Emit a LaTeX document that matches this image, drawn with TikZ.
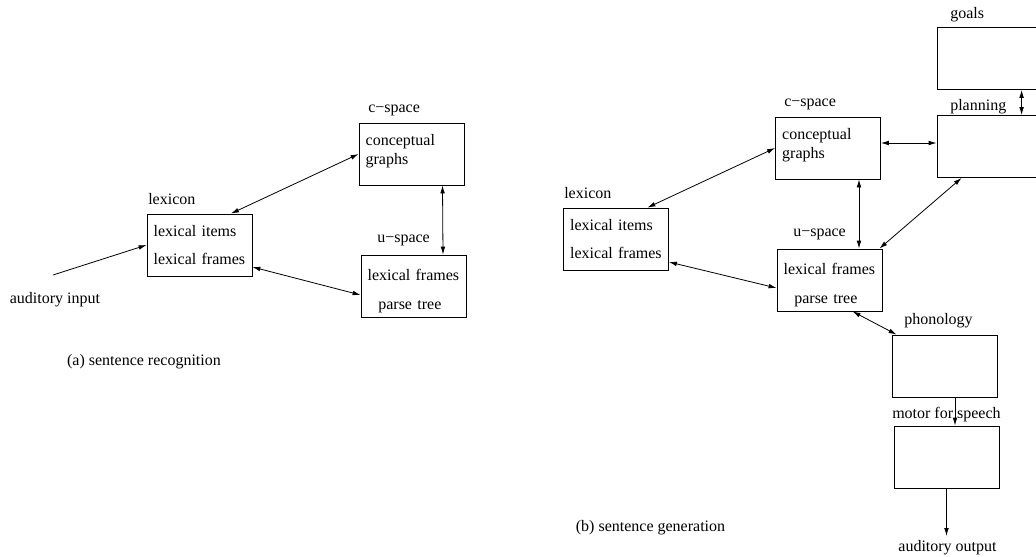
\documentclass[tikz,border=0pt]{standalone}
\usepackage{fontspec}
\setmainfont{Liberation Serif}
\usetikzlibrary{arrows.meta, positioning, calc}

\tikzset{
  stage/.style={draw, line width=0.6pt, inner xsep=5pt, inner ysep=0pt,
                text width=68.75pt, minimum height=46.5pt, align=left},
  tag/.style={anchor=west, inner sep=0pt},
  link/.style={line width=0.6pt, {Latex[length=6pt,width=3.5pt]}-{Latex[length=6pt,width=3.5pt]}},
  feed/.style={line width=0.6pt, -{Latex[length=6pt,width=3.5pt]}},
}

\begin{document}
\begin{tikzpicture}[x=0.75pt, y=-0.75pt, font=\fontsize{12}{14.5}\selectfont]
    \useasboundingbox (0,0) rectangle (1036,557);
    \clip (0,0) rectangle (1036,557);

    % (a) sentence recognition
    \node[stage] (lexA) at (199.5,245) {lexical items\\[6pt]lexical frames};
    \node[stage] (csA) at (411.5,154) {conceptual\\graphs\rule[-6.5pt]{0pt}{0pt}};
    \node[stage] (usA) at (413.5,286) {\rule{0pt}{16pt}lexical frames\\[7pt]\hspace*{8pt}parse tree};
    \node[tag] (lexAtag) at (148,199) {lexicon};
    \node[tag] (csAtag) at (368,110) {c−space};
    \node[tag] (usAtag) at (377,240) {u−space};
    \node (inA) at (55,300) {auditory input};
    \coordinate (inAend) at (53,275);
    \node (capA) at (144,362) {(a) sentence recognition};

    \draw[feed] (inAend) -- (lexA.west);
    \draw[link] (lexA.45) -- (csA.west);
    \draw[link] ($(csA.south)+(31,0)$) -- ($(usA.north)+(29.5,0)$);
    \draw[link] ($(lexA.east)+(0,22)$) -- ($(usA.west)+(0,9)$);

    % (b) sentence generation
    \node[stage] (lexB) at (616,239) {lexical items\\[6pt]lexical frames};
    \node[stage] (csB) at (828,148) {conceptual\\graphs\rule[-6.5pt]{0pt}{0pt}};
    \node[stage] (usB) at (829.5,280) {\rule{0pt}{16pt}lexical frames\\[7pt]\hspace*{8pt}parse tree};
    \node[stage] (goals) at (989.5,58.5) {};
    \node[stage] (plan) at (989.5,146.5) {};
    \node[stage] (phon) at (944.5,366) {};
    \node[stage] (motor) at (946.5,457) {};
    \node[tag] (lexBtag) at (564,193) {lexicon};
    \node[tag] (csBtag) at (784,104) {c−space};
    \node[tag] (usBtag) at (793,234) {u−space};
    \node[tag] (goalstag) at (950,15) {goals};
    \node[tag] (plantag) at (950,107) {planning};
    \node[tag] (phontag) at (904,321) {phonology};
    \node[tag] (motortag) at (892,415) {motor for speech};
    \node (outB) at (947.5,548) {auditory output};
    \node (capB) at (650.5,528) {(b) sentence generation};

    \draw[link] (lexB.45) -- (csB.west);
    \draw[link] ($(lexB.east)+(0,23)$) -- ($(usB.west)+(0,8)$);
    \draw[link] ($(csB.south)+(31,0)$) -- ($(usB.north)+(29.5,0)$);
    \draw[link] ($(csB.east)+(0,-5)$) coordinate (cpB) -- (cpB -| plan.west);
    \draw[link] ($(plan.south west)+(25,0)$) -- ($(usB.north east)+(-3,0)$);
    \draw[link] ($(goals.south west)+(85,0)$) -- ($(plan.north west)+(85,0)$);
    \draw[link] ($(usB.south)+(23,0)$) -- ($(phon.north west)+(5,0)$);
    \draw[feed] ($(phon.south)+(10.5,0)$) coordinate (pmB) -- (pmB |- motor.north);
    \draw[feed] (motor.south) -- (motor.south |- outB.north);
\end{tikzpicture}
\end{document}
